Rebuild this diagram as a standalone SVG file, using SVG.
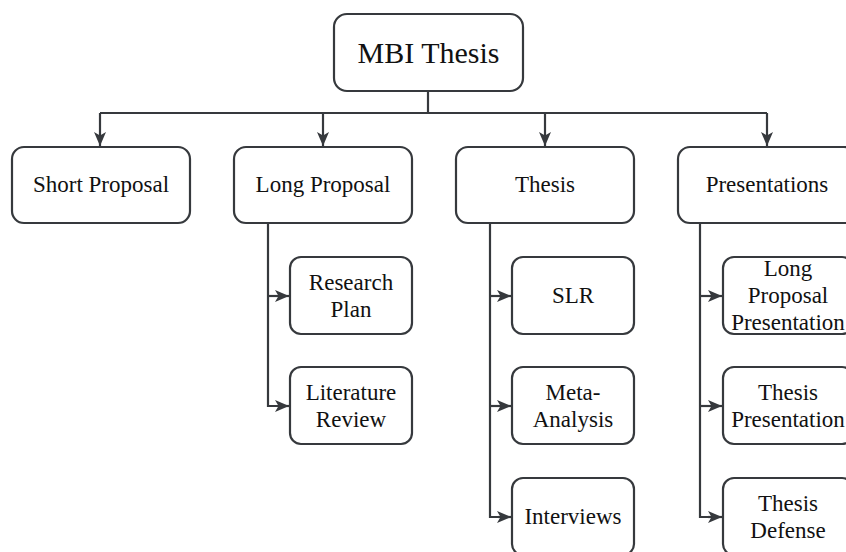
<svg xmlns="http://www.w3.org/2000/svg" width="846" height="552" viewBox="0 0 846 552">
<style>
.box{fill:#fff;stroke:#36393d;stroke-width:2.2}
.t{font-family:"Liberation Serif","Times New Roman",serif;font-size:23px;fill:#111;text-anchor:middle}
.big{font-size:30px}
.c{fill:none;stroke:#36393d;stroke-width:2.2}
</style>
<defs>
<marker id="ah" markerUnits="userSpaceOnUse" markerWidth="18" markerHeight="16" refX="14" refY="6" orient="auto">
<path d="M0,0 L14,6 L0,12 L3.5,6 Z" fill="#36393d"/>
</marker>
</defs>
<rect width="846" height="552" fill="#fff"/>
<g id="connectors">
<path class="c" d="M428,91 V113"/>
<path class="c" d="M100,113 H767"/>
<path class="c" d="M100,113 V146" marker-end="url(#ah)"/>
<path class="c" d="M323,113 V146" marker-end="url(#ah)"/>
<path class="c" d="M545,113 V146" marker-end="url(#ah)"/>
<path class="c" d="M767,113 V146" marker-end="url(#ah)"/>
<path class="c" d="M268,223 V406 H280"/>
<path class="c" d="M268,296 H289" marker-end="url(#ah)"/>
<path class="c" d="M278,406 H289" marker-end="url(#ah)"/>
<path class="c" d="M490,223 V517 H500"/>
<path class="c" d="M490,296 H511" marker-end="url(#ah)"/>
<path class="c" d="M490,406 H511" marker-end="url(#ah)"/>
<path class="c" d="M498,517 H511" marker-end="url(#ah)"/>
<path class="c" d="M700,223 V517 H710"/>
<path class="c" d="M700,296 H722" marker-end="url(#ah)"/>
<path class="c" d="M700,406 H722" marker-end="url(#ah)"/>
<path class="c" d="M708,517 H722" marker-end="url(#ah)"/>
</g>
<g id="mbi-thesis">
<rect class="box" x="334" y="14" width="189" height="77" rx="13"/>
<text class="t big" x="428.5" y="63">MBI Thesis</text>
</g>
<g id="short-proposal">
<rect class="box" x="12" y="147" width="178" height="76" rx="12"/>
<text class="t" x="101" y="192">Short Proposal</text>
</g>
<g id="long-proposal">
<rect class="box" x="234" y="147" width="178" height="76" rx="12"/>
<text class="t" x="323" y="192">Long Proposal</text>
</g>
<g id="thesis">
<rect class="box" x="456" y="147" width="178" height="76" rx="12"/>
<text class="t" x="545" y="192">Thesis</text>
</g>
<g id="presentations">
<rect class="box" x="678" y="147" width="178" height="76" rx="12"/>
<text class="t" x="767" y="192">Presentations</text>
</g>
<g id="research-plan">
<rect class="box" x="290" y="257" width="122" height="77" rx="11"/>
<text class="t" x="351" y="290">Research</text>
<text class="t" x="351" y="317">Plan</text>
</g>
<g id="literature-review">
<rect class="box" x="290" y="367" width="122" height="77" rx="11"/>
<text class="t" x="351" y="400">Literature</text>
<text class="t" x="351" y="427">Review</text>
</g>
<g id="slr">
<rect class="box" x="512" y="257" width="122" height="77" rx="11"/>
<text class="t" x="573" y="303">SLR</text>
</g>
<g id="meta-analysis">
<rect class="box" x="512" y="367" width="122" height="77" rx="11"/>
<text class="t" x="573" y="400">Meta-</text>
<text class="t" x="573" y="427">Analysis</text>
</g>
<g id="interviews">
<rect class="box" x="512" y="478" width="122" height="77" rx="11"/>
<text class="t" x="573" y="524">Interviews</text>
</g>
<g id="long-proposal-presentation">
<rect class="box" x="723" y="257" width="130" height="77" rx="11"/>
<text class="t" x="788" y="276">Long</text>
<text class="t" x="788" y="303">Proposal</text>
<text class="t" x="788" y="330">Presentation</text>
</g>
<g id="thesis-presentation">
<rect class="box" x="723" y="367" width="130" height="77" rx="11"/>
<text class="t" x="788" y="400">Thesis</text>
<text class="t" x="788" y="427">Presentation</text>
</g>
<g id="thesis-defense">
<rect class="box" x="723" y="478" width="130" height="77" rx="11"/>
<text class="t" x="788" y="511">Thesis</text>
<text class="t" x="788" y="538">Defense</text>
</g>
</svg>
